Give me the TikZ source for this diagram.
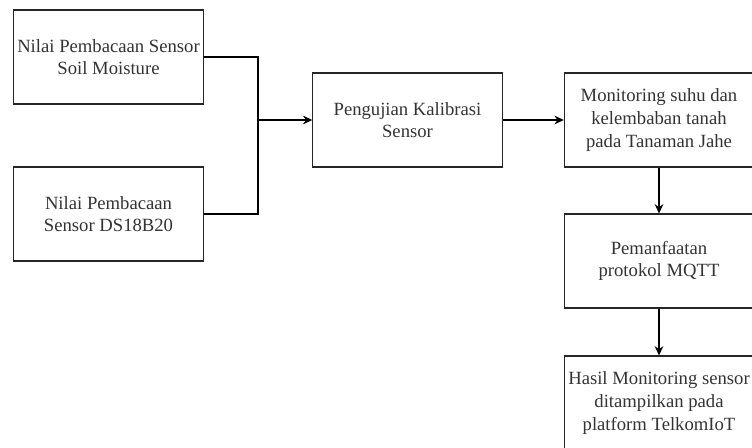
\documentclass[tikz,border=0pt]{standalone}
\usepackage{fontspec}
\setmainfont{Liberation Serif}
\usetikzlibrary{arrows.meta}

\begin{document}
\begin{tikzpicture}[x=0.75pt,y=-0.75pt,
		kotak/.style={draw=black!85, line width=0.8pt, minimum width=142pt, minimum height=70.5pt, inner sep=0pt, align=center, text=black!80, font=\fontsize{14}{17}\selectfont},
		garis/.style={draw=black, line width=1pt},
		panah/.style={garis, -{Stealth[length=7pt,width=6.5pt]}}]
		\useasboundingbox (0,0) rectangle (752,447);
		\node[kotak] (soil) at (108.5,57) {Nilai Pembacaan Sensor\\Soil Moisture};
		\node[kotak] (ds) at (108.5,214) {Nilai Pembacaan\\Sensor DS18B20};
		\node[kotak] (kalibrasi) at (407.5,120) {Pengujian Kalibrasi\\Sensor};
		\node[kotak] (monitoring) at (659,120) {Monitoring suhu dan\\kelembaban tanah\\pada Tanaman Jahe};
		\node[kotak] (mqtt) at (659,261) {Pemanfaatan\\protokol MQTT};
		\node[kotak] (hasil) at (659,403) {Hasil Monitoring sensor\\ditampilkan pada\\platform TelkomIoT};
		\coordinate (gabung) at (258,120);
		\draw[garis] (soil.east) -| (gabung);
		\draw[garis] (ds.east) -| (gabung);
		\draw[panah] (gabung) -- (kalibrasi.west);
		\draw[panah] (kalibrasi) -- (monitoring);
		\draw[panah] (monitoring) -- (mqtt);
		\draw[panah] (mqtt) -- (hasil);
	\end{tikzpicture}
\end{document}
